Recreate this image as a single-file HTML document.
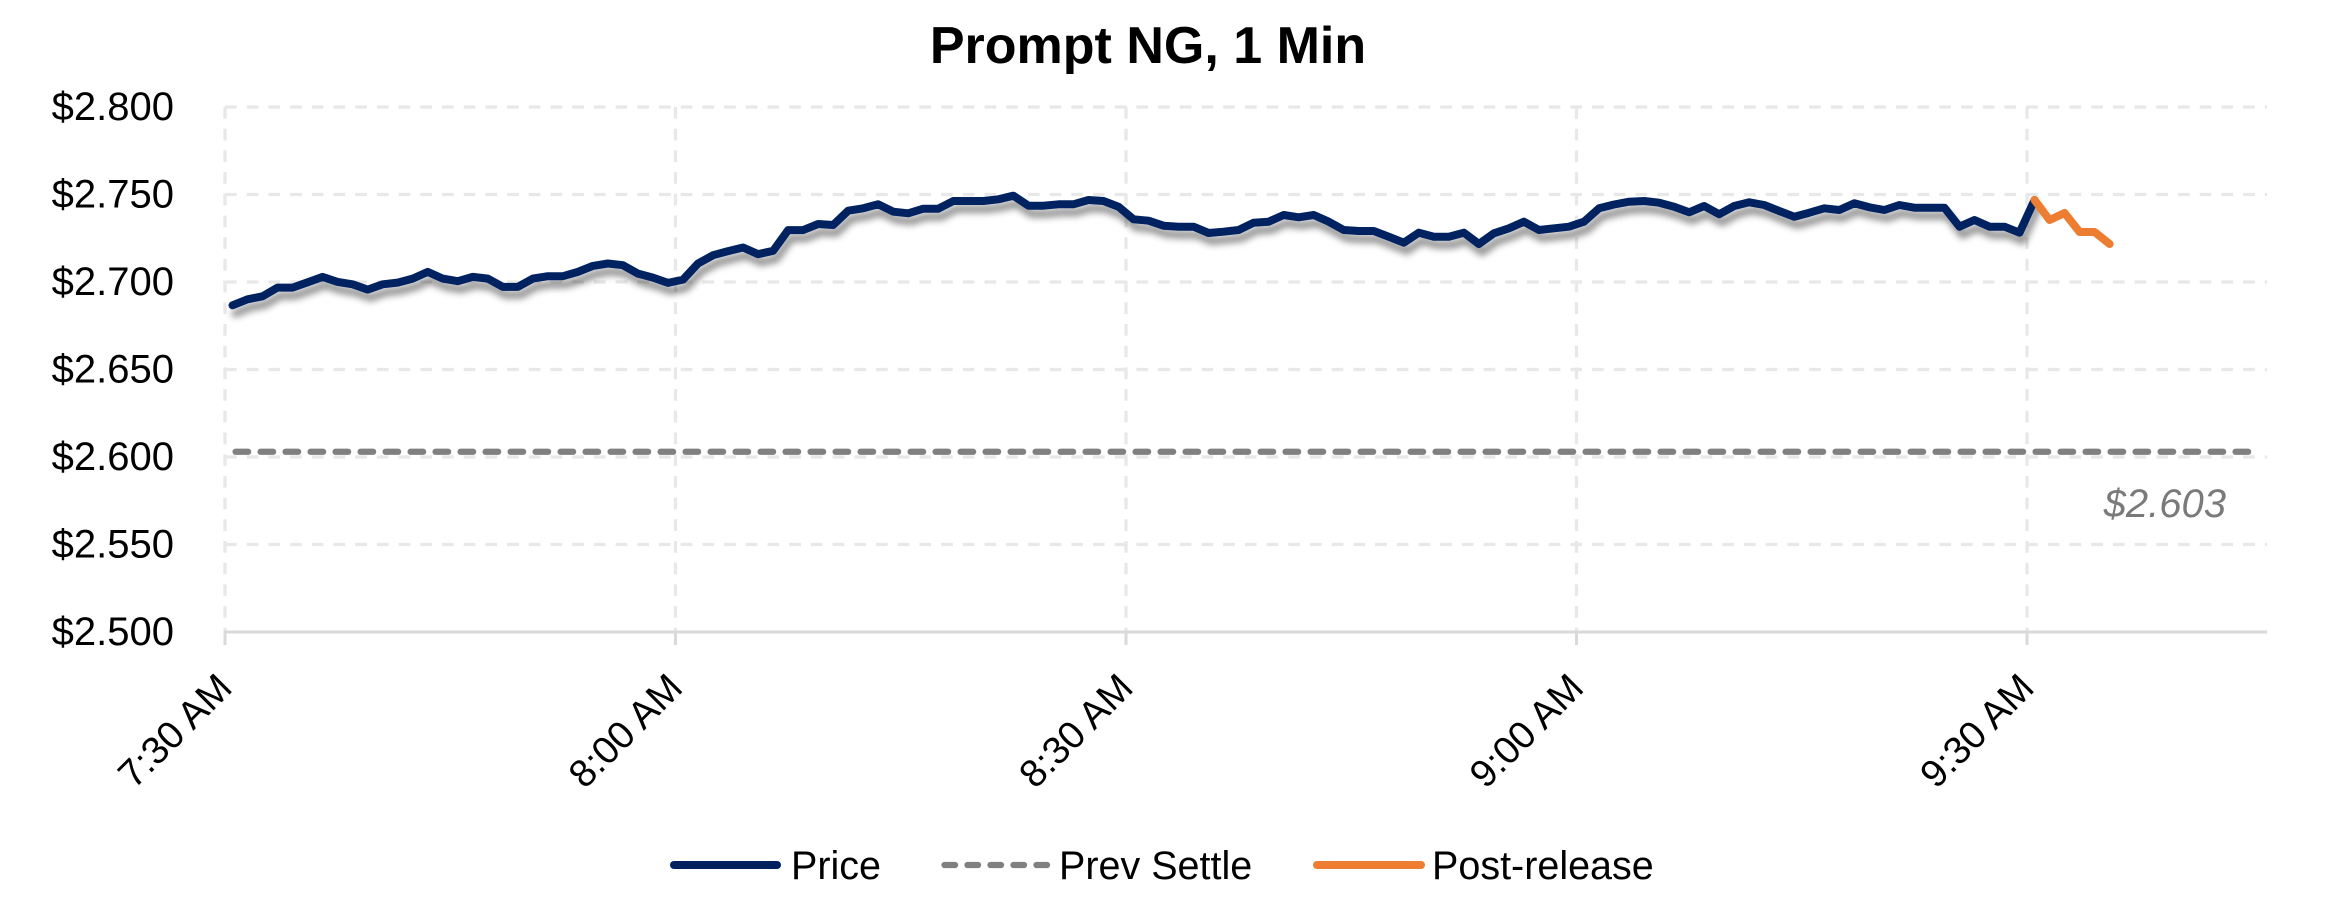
<!DOCTYPE html>
<html>
<head>
<meta charset="utf-8">
<style>
  html, body { margin:0; padding:0; background:#ffffff; }
  svg { display:block; }
  text { font-family: "Liberation Sans", Arial, sans-serif; }
</style>
</head>
<body>
<svg width="2325" height="902" viewBox="0 0 2325 902" xmlns="http://www.w3.org/2000/svg">
  <defs>
    <filter id="sh" x="-5%" y="-60%" width="110%" height="220%">
      <feDropShadow dx="3" dy="8" stdDeviation="3.5" flood-color="#000" flood-opacity="0.42"/>
    </filter>
  </defs>
  <rect width="2325" height="902" fill="#ffffff"/>

  <!-- Title -->
  <text x="1148" y="63" font-size="52" font-weight="bold" text-anchor="middle" fill="#000">Prompt NG, 1 Min</text>

  <!-- Horizontal gridlines -->
  <g stroke="#e8e8e8" stroke-width="3.3" stroke-dasharray="11.7 10" fill="none">
    <line x1="225" y1="107" x2="2267" y2="107"/>
    <line x1="225" y1="194.5" x2="2267" y2="194.5"/>
    <line x1="225" y1="282" x2="2267" y2="282"/>
    <line x1="225" y1="369.5" x2="2267" y2="369.5"/>
    <line x1="225" y1="457" x2="2267" y2="457"/>
    <line x1="225" y1="544.5" x2="2267" y2="544.5"/>
  </g>
  <!-- Vertical gridlines -->
  <g stroke="#e8e8e8" stroke-width="3.3" stroke-dasharray="11.7 10" fill="none">
    <line x1="225" y1="107" x2="225" y2="632"/>
    <line x1="675.5" y1="107" x2="675.5" y2="632"/>
    <line x1="1126" y1="107" x2="1126" y2="632"/>
    <line x1="1576.5" y1="107" x2="1576.5" y2="632"/>
    <line x1="2027" y1="107" x2="2027" y2="632"/>
  </g>
  <!-- Axis line and ticks -->
  <g stroke="#d9d9d9" stroke-width="3" fill="none">
    <line x1="224" y1="632" x2="2267" y2="632"/>
    <line x1="225" y1="632" x2="225" y2="645"/>
    <line x1="675.5" y1="632" x2="675.5" y2="645"/>
    <line x1="1126" y1="632" x2="1126" y2="645"/>
    <line x1="1576.5" y1="632" x2="1576.5" y2="645"/>
    <line x1="2027" y1="632" x2="2027" y2="645"/>
  </g>

  <!-- Y axis labels -->
  <g font-size="40" text-anchor="end" fill="#000">
    <text x="174" y="120">$2.800</text>
    <text x="174" y="207.5">$2.750</text>
    <text x="174" y="295">$2.700</text>
    <text x="174" y="382.5">$2.650</text>
    <text x="174" y="470">$2.600</text>
    <text x="174" y="557.5">$2.550</text>
    <text x="174" y="645">$2.500</text>
  </g>

  <!-- X axis labels -->
  <g font-size="38.5" text-anchor="end" fill="#000">
    <text x="234" y="690" transform="rotate(-45 234 690)">7:30 AM</text>
    <text x="684.5" y="690" transform="rotate(-45 684.5 690)">8:00 AM</text>
    <text x="1135" y="690" transform="rotate(-45 1135 690)">8:30 AM</text>
    <text x="1585.5" y="690" transform="rotate(-45 1585.5 690)">9:00 AM</text>
    <text x="2036" y="690" transform="rotate(-45 2036 690)">9:30 AM</text>
  </g>

  <!-- Prev settle dashed line -->
  <line x1="235.6" y1="451.75" x2="2259.5" y2="451.75" stroke="#808080" stroke-width="6.3" stroke-linecap="round" stroke-dasharray="12.5 12.5"/>
  <text x="2226" y="517" font-size="40" font-style="italic" text-anchor="end" fill="#7a7a7a">$2.603</text>

  <!-- Price series -->
  <g filter="url(#sh)">
    <polyline transform="translate(232.5 0) scale(15.017 1)" vector-effect="non-scaling-stroke" fill="none" stroke="#002060" stroke-width="8" stroke-linejoin="round" stroke-linecap="round"
      points="0,305.3 1,299.3 2,296.3 3,287.6 4,287.6 5,282.3 6,276.9 7,281.9 8,284.3 9,289.6 10,284.3 11,282.6 12,278.6 13,271.9 14,278.6 15,281.2 16,276.9 17,278.6 18,286.9 19,286.9 20,278.6 21,276.2 22,276.2 23,271.9 24,265.9 25,263.5 26,265.2 27,273.6 28,277.6 29,282.9 30,279.6 31,263.5 32,255.2 33,251.1 34,247.5 35,254.2 36,250.8 37,230.1 38,230.1 39,224 40,225 41,210.7 42,208.3 43,204.3 44,211.7 45,213.3 46,208.7 47,208.7 48,201 49,201 50,201 51,199.3 52,195.7 53,205.7 54,205.7 55,204.3 56,204.3 57,200 58,201 59,206.7 60,219.3 61,220.7 62,225.7 63,226.7 64,226.7 65,233 66,231.7 67,230 68,222.7 69,221.7 70,215 71,217.3 72,215 73,221.7 74,230 75,231 76,231 77,236.7 78,242.7 79,232.7 80,236.7 81,236.7 82,232.7 83,244 84,233.3 85,228.3 86,221.7 87,230 88,228.3 89,226.7 90,221.7 91,208.3 92,204.5 93,201.7 94,201 95,202.7 96,206.7 97,212.3 98,206 99,214.3 100,206 101,202.3 102,205 103,211 104,216.7 105,212.7 106,208.3 107,210 108,203.3 109,207.3 110,210 111,205 112,207.7 113,207.7 114,207.7 115,226.7 116,220 117,226.7 118,226.7 119,232.7 120,200"/>
  </g>

  <!-- Post-release series -->
  <polyline transform="translate(232.5 0) scale(15.017 1)" vector-effect="non-scaling-stroke" fill="none" stroke="#ED7D31" stroke-width="8" stroke-linejoin="round" stroke-linecap="round"
    points="120,200 121,220 122,213 123,232 124,232 125,244"/>

  <!-- Legend -->
  <line x1="674" y1="865" x2="777" y2="865" stroke="#002060" stroke-width="8" stroke-linecap="round"/>
  <text x="791" y="879" font-size="39.5" fill="#000">Price</text>

  <line x1="944.5" y1="865" x2="1047" y2="865" stroke="#808080" stroke-width="6.3" stroke-linecap="round" stroke-dasharray="10.5 12.5"/>
  <text x="1059" y="879" font-size="39.5" fill="#000">Prev Settle</text>

  <line x1="1317" y1="865" x2="1421" y2="865" stroke="#ED7D31" stroke-width="8" stroke-linecap="round"/>
  <text x="1432" y="879" font-size="39.5" fill="#000">Post-release</text>
</svg>
</body>
</html>
